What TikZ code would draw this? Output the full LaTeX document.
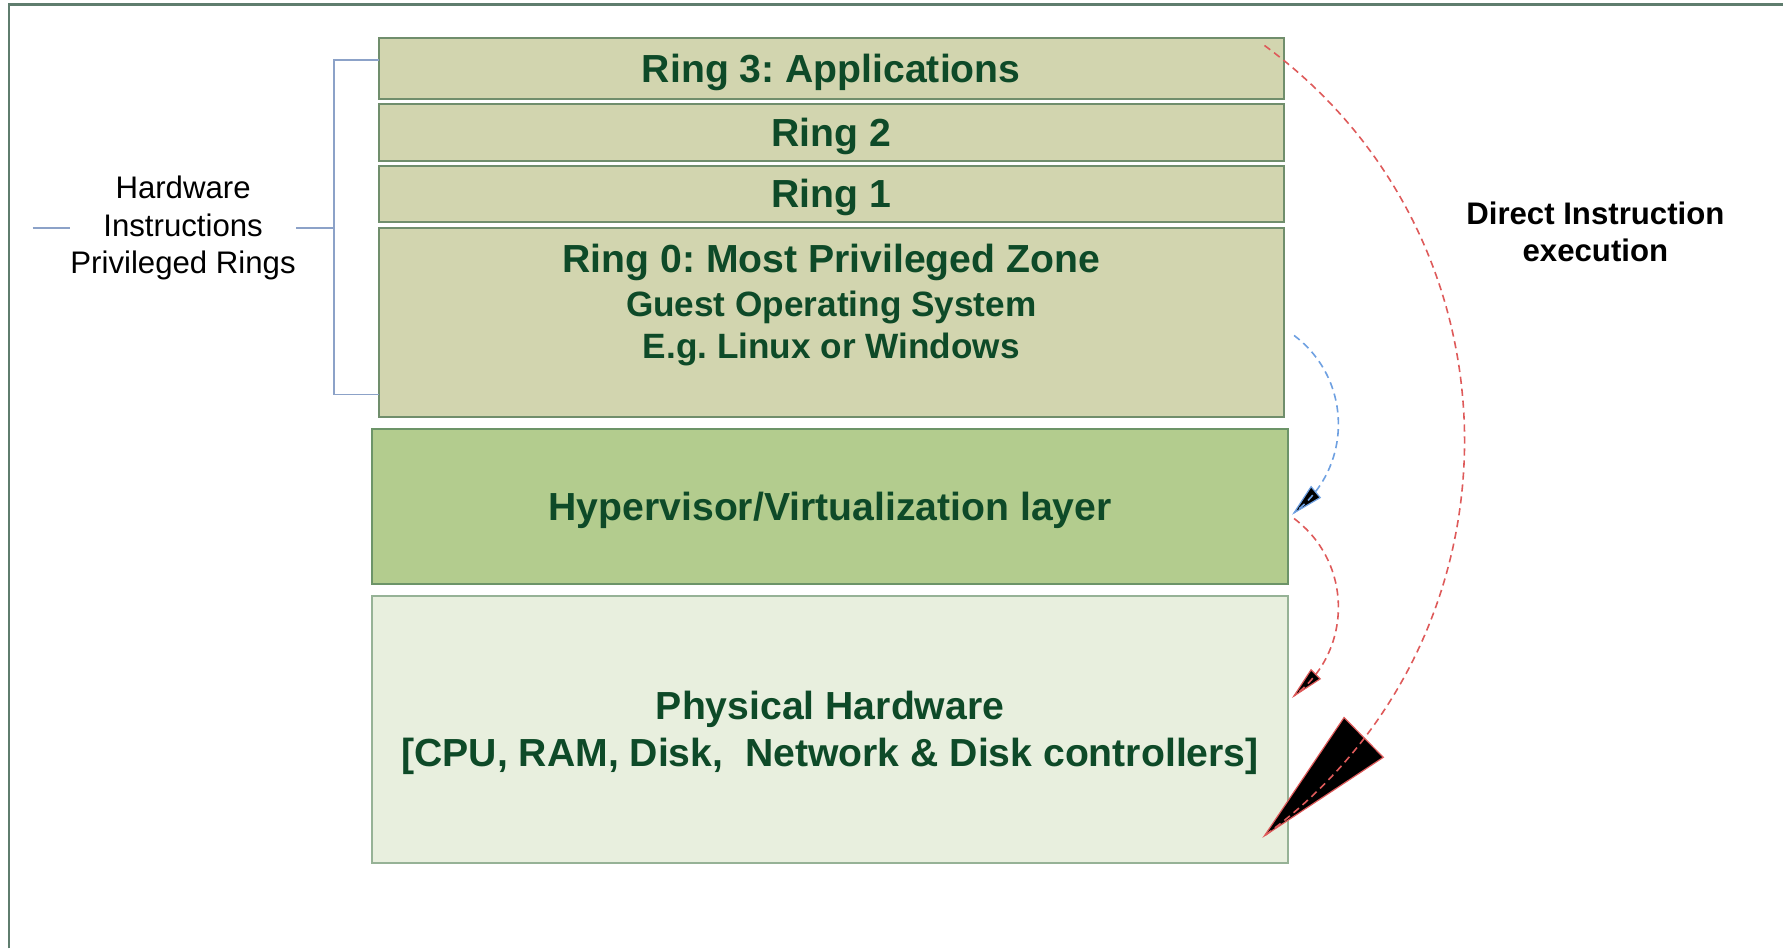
\documentclass[tikz,border=0pt]{standalone}
\usepackage{fontspec}
\setmainfont{Liberation Sans}
\frenchspacing
\definecolor{ringfill}{RGB}{210,213,175}
\definecolor{ringdraw}{RGB}{112,142,108}
\definecolor{hypfill}{RGB}{179,204,142}
\definecolor{hypdraw}{RGB}{108,148,104}
\definecolor{hwfill}{RGB}{232,239,222}
\definecolor{hwdraw}{RGB}{150,178,150}
\definecolor{txtgreen}{RGB}{14,74,40}
\definecolor{redline}{RGB}{222,90,90}
\definecolor{blueline}{RGB}{110,160,225}
\definecolor{brackblue}{RGB}{140,162,200}
\definecolor{framecol}{RGB}{95,125,110}
\newcommand{\layerfont}{\fontsize{9.8}{11.7}\selectfont\bfseries}
\newcommand{\subfont}{\fontsize{8.8}{10.6}\selectfont\bfseries}
\newcommand{\sidefont}{\fontsize{7.8}{9.4}\selectfont}
\begin{document}
\begin{tikzpicture}[x=0.1mm,y=-0.1mm]
\tikzstyle{every node}+=[inner sep=0pt]
\tikzstyle{ring}=[draw=ringdraw, fill=ringfill, line width=0.5pt, minimum width=79.6mm, text=txtgreen, font=\layerfont, text depth=0.3pt]
\tikzstyle{base}=[line width=0.5pt, minimum width=80.6mm, text=txtgreen, font=\layerfont, align=center, text depth=0.3pt]
\tikzstyle{bracket}=[brackblue, line width=0.4pt]
\tikzstyle{flow}=[line width=0.4pt, dash pattern=on 1.8pt off 1.2pt]
\useasboundingbox (0,0) rectangle (1568,834);
\draw [framecol, line width=0.6pt] (8,834) -- (8,4) -- (1568,4);
\node [ring, minimum height=5.36mm] (ring3) at (731,60.5) {Ring 3: Applications};
\node [ring, minimum height=4.96mm] (ring2) at (731,116.5) {Ring 2};
\node [ring, minimum height=4.93mm] (ring1) at (731,170.4) {Ring 1};
\node [ring, minimum height=16.62mm] (ring0) at (731,283.3) {};
\node [text=txtgreen, font=\layerfont] (ring0a) at (731,230.5) {Ring 0: Most Privileged Zone};
\node [text=txtgreen, font=\subfont] (ring0b) at (731,270.5) {Guest Operating System};
\node [text=txtgreen, font=\subfont] (ring0c) at (731,307.5) {E.g. Linux or Windows};
\node [base, draw=hypdraw, fill=hypfill, minimum height=13.67mm] (hyp) at (730,445.6) {Hypervisor/Virtualization layer};
\node [base, draw=hwdraw, fill=hwfill, minimum height=23.5mm] (hw) at (730,641.5) {Physical Hardware\\{[}CPU, RAM, Disk, \ Network \& Disk controllers{]}};
\coordinate (btop) at (333,53);
\coordinate (bbot) at (333,347);
\coordinate (bmid) at (293.5,200.5);
\coordinate (bleft) at (28.6,200.5);
\node [font=\sidefont, align=center] (privtxt) at (161,200.5) {Hardware\\Instructions\\Privileged Rings};
\draw [bracket] (btop) -| (bmid) |- (bbot);
\draw [bracket] (privtxt.east) -- (bmid);
\draw [bracket] (bleft) -- (privtxt.west);
\node [font=\sidefont\bfseries, align=center] (direct) at (1403,204) {Direct Instruction\\execution};
\coordinate (dstart) at (1112,40);
\coordinate (dend) at (1112,735);
\fill [black, draw=redline, line width=0.3pt] (dend) -- (1182,631) -- (1216.5,666) -- cycle;
\draw [flow, redline] (dstart) .. controls (1346.6,212.3) and (1346.6,562.7) .. (dend);
\coordinate (hvin) at (1138,295);
\coordinate (hvout) at (1138,451);
\fill [black, draw=blueline, line width=0.3pt] (hvout) -- (1153,428) -- (1161,437.6) -- cycle;
\draw [flow, blueline] (hvin) .. controls (1190,334) and (1190,412) .. (hvout);
\coordinate (hwin) at (1138,456);
\coordinate (hwout) at (1138,612);
\fill [black, draw=redline, line width=0.3pt] (hwout) -- (1153,589) -- (1161,597) -- cycle;
\draw [flow, redline] (hwin) .. controls (1190,495) and (1190,573) .. (hwout);
\end{tikzpicture}
\end{document}
